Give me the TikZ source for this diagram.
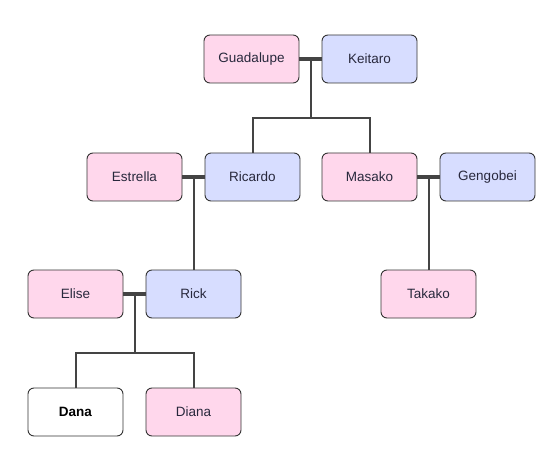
\documentclass[tikz,border=0pt]{standalone}
\usepackage{fontspec}
\setmainfont{Liberation Sans}
\definecolor{pinkf}{RGB}{255,215,236}
\definecolor{bluef}{RGB}{215,221,255}
\definecolor{edgec}{RGB}{51,51,51}
\definecolor{linec}{RGB}{68,68,68}
\definecolor{txtc}{RGB}{40,40,60}
\begin{document}
\begin{tikzpicture}[x=1pt,y=-1pt,
  person/.style={draw=edgec,line width=0.9pt,rounded corners=6pt,minimum width=95pt,minimum height=48pt,inner sep=0pt,font=\fontsize{13.5}{16}\selectfont,text=txtc},
  female/.style={person,fill=pinkf},
  male/.style={person,fill=bluef},
  unknown/.style={person,fill=white,font=\fontsize{13.5}{16}\selectfont\bfseries,text=black},
  marriage/.style={draw=linec,line width=4pt},
  child/.style={draw=linec,line width=2pt}]
\useasboundingbox (0,0) rectangle (540,462);
\node[female] (guadalupe) at (251.5,59) {Guadalupe};
\node[male] (keitaro) at (369.5,59) {Keitaro};
\node[female] (estrella) at (134.5,177) {Estrella};
\node[male] (ricardo) at (252.5,177) {Ricardo};
\node[female] (masako) at (369.5,177) {Masako};
\node[male] (gengobei) at (487.5,177) {Gengobei};
\node[female] (elise) at (75.5,294) {Elise};
\node[male] (rick) at (193.5,294) {Rick};
\node[female] (takako) at (428.5,294) {Takako};
\node[unknown] (dana) at (75.5,412) {Dana};
\node[female] (diana) at (193.5,412) {Diana};
% marriages
\draw[marriage] (guadalupe.east) -- coordinate (m1) (keitaro.west);
\draw[marriage] (estrella.east) -- coordinate (m2) (ricardo.west);
\draw[marriage] (masako.east) -- coordinate (m3) (gengobei.west);
\draw[marriage] (elise.east) -- coordinate (m4) (rick.west);
% children
\coordinate (j1) at (310.5,118);
\coordinate (j4) at (134.5,353);
\draw[child] (m1) -- (j1);
\draw[child] (ricardo.north) |- (j1) -| (masako.north);
\draw[child] (m2) -- (rick.north);
\draw[child] (m3) -- (takako.north);
\draw[child] (m4) -- (j4);
\draw[child] (dana.north) |- (j4) -| (diana.north);
\end{tikzpicture}
\end{document}
